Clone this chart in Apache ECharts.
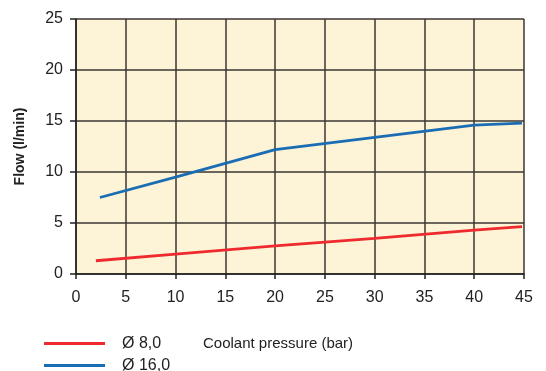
<!DOCTYPE html>
<html><head><meta charset="utf-8">
<script src="https://cdn.jsdelivr.net/npm/echarts@6/dist/echarts.min.js"></script>
<style>html,body{margin:0;padding:0;background:#fff}#c{width:546px;height:371px}</style>
</head><body><div id="c"></div>
<script>
var xTicks = [0,5,10,15,20,25,30,35,40,45];
var yTicks = [0,5,10,15,20,25];
var seriesNames = ['Ø 8,0', 'Ø 16,0'];
var red80 = [[2.0,1.3],[10,1.95],[20,2.75],[30,3.5],[40,4.3],[44.8,4.65]];
var blue160 = [[2.4,7.5],[10,9.5],[20,12.2],[30,13.4],[40,14.6],[44.8,14.8]];
var xName = 'Coolant pressure (bar)';
var yName = 'Flow (l/min)';

var chart = echarts.init(document.getElementById('c'), null, {renderer:'canvas'});
var font = 'Liberation Sans, Arial, sans-serif';
chart.setOption({
  animation:false,
  grid:{left:76,right:22,top:19,bottom:97,show:true,backgroundColor:'#fdf3d6',borderWidth:0},
  xAxis:{type:'value',min:xTicks[0],max:xTicks[xTicks.length-1],interval:5,
    axisLine:{show:true,lineStyle:{color:'#222',width:1.5}},
    axisTick:{show:true,length:5,lineStyle:{color:'#222',width:1.5}},
    axisLabel:{color:'#222',fontSize:16,fontFamily:font,margin:16},
    splitLine:{show:true,lineStyle:{color:'#3a3632',width:1.5}}},
  yAxis:{type:'value',min:yTicks[0],max:yTicks[yTicks.length-1],interval:5,
    name:yName,nameLocation:'middle',nameGap:49,nameRotate:90,
    nameTextStyle:{color:'#222',fontSize:14,fontWeight:'bold',fontFamily:font},
    axisLine:{show:true,lineStyle:{color:'#222',width:1.5}},
    axisTick:{show:true,length:6,lineStyle:{color:'#222',width:1.5}},
    axisLabel:{color:'#222',fontSize:16,fontFamily:font,margin:13},
    splitLine:{show:true,lineStyle:{color:'#3a3632',width:1.5}}},
  legend:{orient:'vertical',left:44,top:335,height:80,padding:0,itemWidth:61,itemHeight:3,itemGap:5,
    icon:'rect',
    textStyle:{color:'#222',fontSize:16,fontFamily:font,padding:[0,0,0,12],lineHeight:17},
    data:seriesNames},
  graphic:[{type:'text',left:203,top:336,style:{text:xName,fill:'#222',fontSize:15,fontFamily:font}}],
  series:[
    {name:seriesNames[0],type:'line',data:red80,symbol:'none',lineStyle:{color:'#ee2a2e',width:2.8},itemStyle:{color:'#ee2a2e'}},
    {name:seriesNames[1],type:'line',data:blue160,symbol:'none',lineStyle:{color:'#1a6db4',width:2.8},itemStyle:{color:'#1a6db4'}}
  ]
});
</script></body></html>
